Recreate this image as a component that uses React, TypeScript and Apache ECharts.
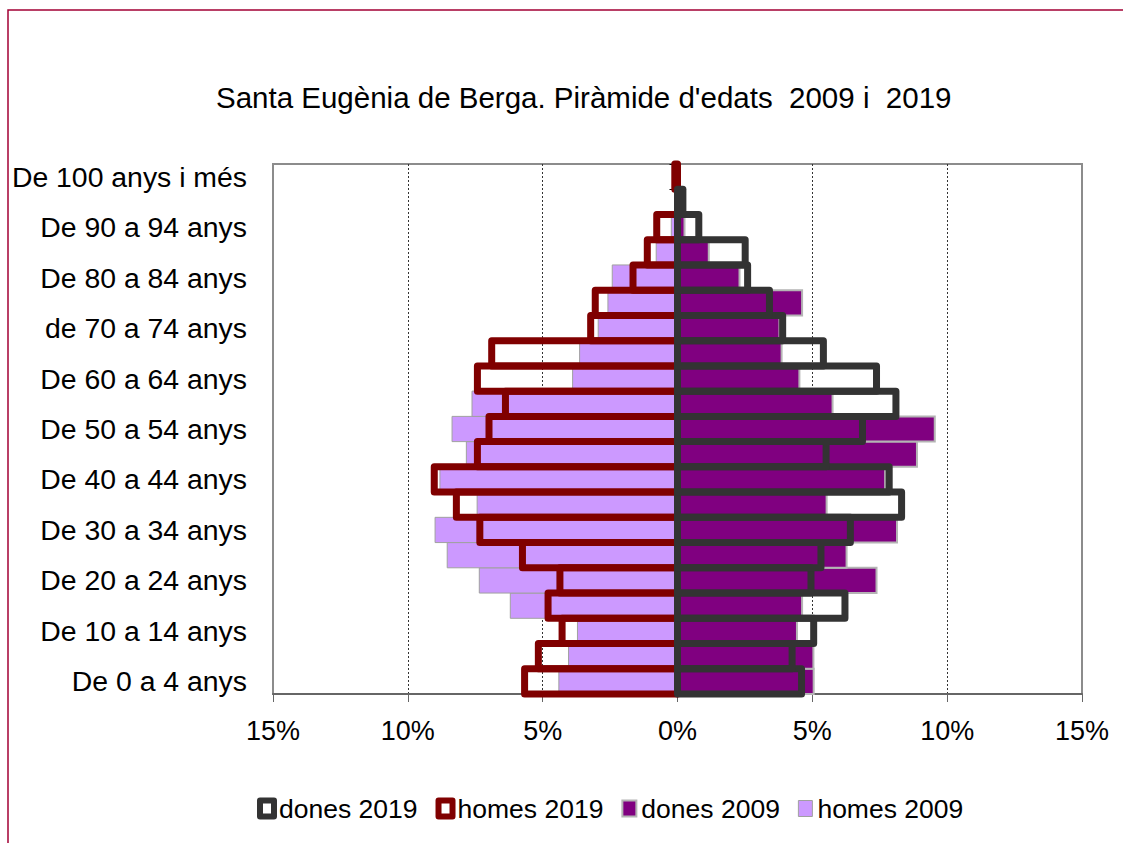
import React, { useEffect, useRef } from "react";
import * as echarts from "echarts";

const FONT = "'Liberation Sans', Arial, Helvetica, sans-serif";

const categories = [
  "De 0 a 4 anys", "De 5 a 9 anys", "De 10 a 14 anys", "De 15 a 19 anys",
  "De 20 a 24 anys", "De 25 a 29 anys", "De 30 a 34 anys", "De 35 a 39 anys",
  "De 40 a 44 anys", "De 45 a 49 anys", "De 50 a 54 anys", "De 55 a 59 anys",
  "De 60 a 64 anys", "De 65 a 69 anys", "de 70 a 74 anys", "De 75 a 79 anys",
  "De 80 a 84 anys", "De 85 a 89 anys", "De 90 a 94 anys", "De 95 a 99 anys",
  "De 100 anys i més",
];

// percentages (men are drawn to the left)
const homes2019 = [5.67, 5.16, 4.28, 4.8, 4.36, 5.75, 7.33, 8.2, 9.02, 7.42, 6.99, 6.38, 7.42, 6.89, 3.22, 3.05, 1.65, 1.12, 0.77, 0, 0.1];
const homes2009 = [4.4, 4.04, 3.71, 6.2, 7.35, 8.54, 8.99, 7.43, 8.81, 7.83, 8.36, 7.62, 3.89, 3.63, 2.94, 2.58, 2.42, 0.79, 0.23, 0, 0];
const dones2019 = [4.6, 4.25, 5.05, 6.21, 4.95, 5.32, 6.41, 8.31, 7.85, 5.51, 6.86, 8.1, 7.38, 5.41, 3.9, 3.41, 2.6, 2.51, 0.79, 0.2, 0];
const dones2009 = [5.05, 5.04, 4.43, 4.62, 7.38, 6.27, 8.14, 5.53, 7.7, 8.88, 9.54, 5.75, 4.52, 3.86, 3.78, 4.62, 2.3, 1.16, 0.26, 0, 0];

const xTicks = { min: -15, max: 15, interval: 5 };
const legendNames = ["dones 2019", "homes 2019", "dones 2009", "homes 2009"];
const title = "Santa Eugènia de Berga. Piràmide d'edats  2009 i  2019";

// [value, categoryIndex] pairs; zero values are not drawn
const toData = (arr: number[], sign: number) =>
  arr.map((v, i) => [sign * v, i]).filter((d) => d[0] !== 0);

export default function App() {
  const ref = useRef<HTMLDivElement>(null);
  useEffect(() => {
    if (!ref.current) return;
    const chart = echarts.init(ref.current, null, { renderer: "svg" });

    // bar drawn through the axes; the outline is centred on the bar's edges
    const barSeries = (name: string, data: number[][], z: number, style: any) => ({
      name,
      type: "custom",
      xAxisIndex: 0,
      yAxisIndex: 0,
      z,
      clip: false,
      encode: { x: 0, y: 1 },
      data,
      itemStyle: { color: style.fill === "none" ? style.stroke : style.fill, borderColor: style.stroke },
      renderItem: (params: any, api: any) => {
        const cat = api.value(1);
        const start = api.coord([0, cat]);
        const end = api.coord([api.value(0), cat]);
        const band = api.size([0, 1])[1];
        return {
          type: "rect",
          shape: {
            x: Math.min(start[0], end[0]),
            y: start[1] - band / 2,
            width: Math.abs(end[0] - start[0]),
            height: band,
          },
          style: { ...style },
        };
      },
    });

    chart.setOption({
      animation: false,
      backgroundColor: "#ffffff",
      textStyle: { fontFamily: FONT },
      title: {
        text: title,
        left: 216,
        top: 82,
        padding: 0,
        textStyle: { fontFamily: FONT, fontSize: 29.5, fontWeight: "normal", color: "#000" },
      },
      graphic: [
        {
          type: "rect",
          shape: { x: 8, y: 10, width: 1400, height: 1000 },
          style: { fill: "none", stroke: "#A30034", lineWidth: 1.5 },
          silent: true,
        },
      ],
      legend: {
        data: [
          { name: legendNames[0], icon: "rect", itemStyle: { color: "#ffffff", borderColor: "#333333", borderWidth: 6, borderJoin: "round" } },
          { name: legendNames[1], icon: "rect", itemStyle: { color: "#ffffff", borderColor: "#800000", borderWidth: 6, borderJoin: "round" } },
          { name: legendNames[2], icon: "rect", itemStyle: { color: "#800080", borderColor: "#b4b4b4", borderWidth: 2 } },
          { name: legendNames[3], icon: "rect", itemStyle: { color: "#CC99FF", borderColor: "#a0a0a0", borderWidth: 1 } },
        ],
        left: 257,
        top: 795,
        icon: "rect",
        itemWidth: 14,
        itemHeight: 16,
        itemGap: 18,
        padding: 0,
        textStyle: { fontFamily: FONT, fontSize: 26.5, color: "#000" },
      },
      grid: {
        left: 273,
        right: 41,
        top: 164,
        bottom: 149,
        show: true,
        borderColor: "#8c8c8c",
        borderWidth: 2,
        backgroundColor: "transparent",
      },
      xAxis: {
        type: "value",
        min: xTicks.min,
        max: xTicks.max,
        interval: xTicks.interval,
        axisLine: { show: true, onZero: false, lineStyle: { color: "#666", width: 2 } },
        axisTick: { show: true, length: 8, lineStyle: { color: "#666", width: 1 } },
        axisLabel: {
          formatter: (v: number) => Math.abs(v) + "%",
          fontFamily: FONT,
          fontSize: 27,
          color: "#000",
          margin: 23,
        },
        splitLine: {
          show: true,
          showMinLine: false,
          showMaxLine: false,
          lineStyle: { color: "#333", width: 1, type: [2, 2] },
        },
      },
      yAxis: [
        {
          type: "category",
          data: categories,
          position: "left",
          axisLine: { show: false, onZero: false },
          axisTick: { show: false },
          splitLine: { show: false },
          axisLabel: { interval: 1, fontFamily: FONT, fontSize: 28.4, color: "#000", margin: 26 },
        },
        {
          type: "category",
          data: categories,
          position: "left",
          axisLine: { show: true, onZero: true, lineStyle: { color: "#000", width: 1 } },
          axisTick: { show: true, length: 8, lineStyle: { color: "#000", width: 1 } },
          axisLabel: { show: false },
          splitLine: { show: false },
        },
      ],
      series: [
        barSeries("homes 2009", toData(homes2009, -1), 2, { fill: "#CC99FF", stroke: "#a0a0a0", lineWidth: 1 }),
        barSeries("dones 2009", toData(dones2009, 1), 2, { fill: "#800080", stroke: "#b4b4b4", lineWidth: 2 }),
        barSeries("homes 2019", toData(homes2019, -1), 3, { fill: "none", stroke: "#800000", lineWidth: 7, lineJoin: "round" }),
        barSeries("dones 2019", toData(dones2019, 1), 4, { fill: "none", stroke: "#333333", lineWidth: 7, lineJoin: "round" }),
      ],
    });
    return () => chart.dispose();
  }, []);
  return (
    <div
      ref={ref}
      style={{ position: "absolute", left: 0, top: 0, width: 1123, height: 843 }}
    />
  );
}
